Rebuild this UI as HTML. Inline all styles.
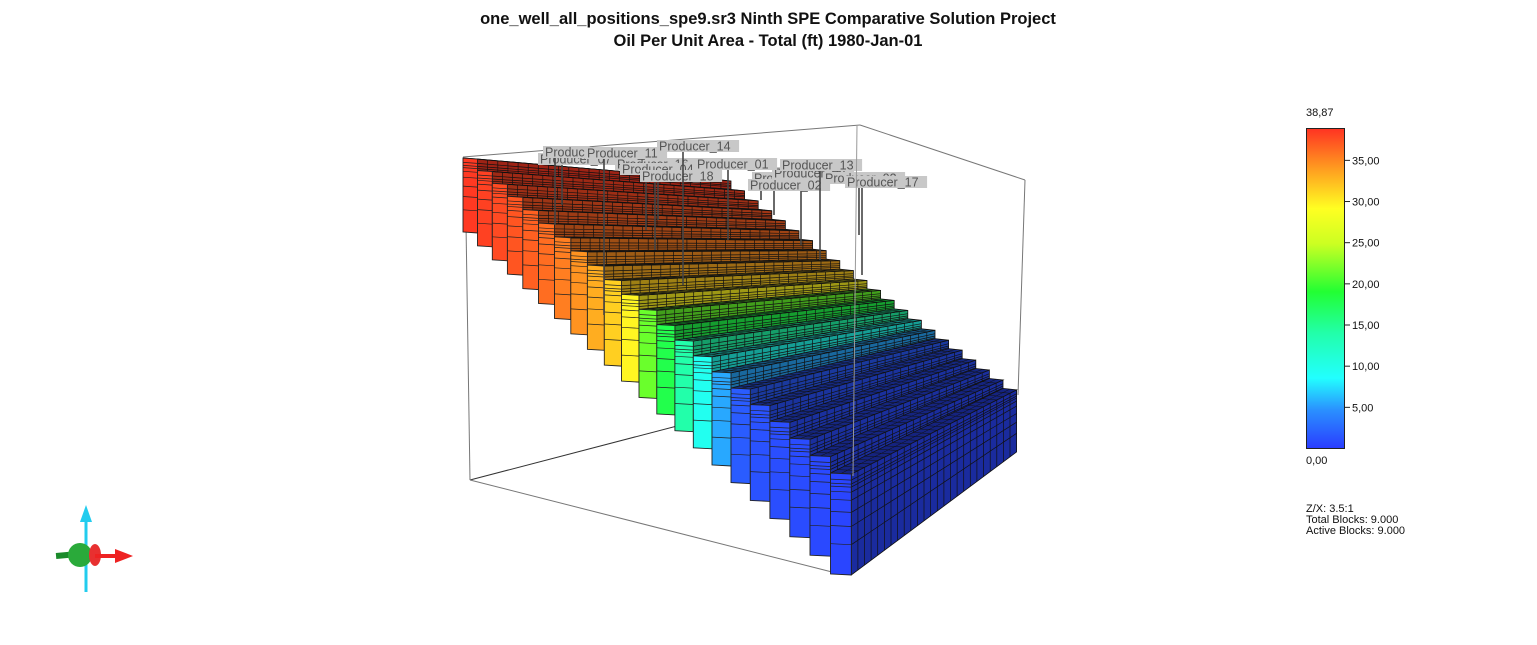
<!DOCTYPE html>
<html><head><meta charset="utf-8"><style>
html,body{margin:0;padding:0;background:#fff;}
body{width:1537px;height:640px;overflow:hidden;font-family:"Liberation Sans",sans-serif;}
</style></head><body>
<svg id="chart" width="1537" height="640" viewBox="0 0 1537 640" xmlns="http://www.w3.org/2000/svg">
<text x="768" y="24" text-anchor="middle" font-family="Liberation Sans, sans-serif" font-size="16.5" font-weight="bold" fill="#111">one_well_all_positions_spe9.sr3 Ninth SPE Comparative Solution Project</text>
<text x="768" y="46" text-anchor="middle" font-family="Liberation Sans, sans-serif" font-size="16.5" font-weight="bold" fill="#111">Oil Per Unit Area - Total (ft)  1980-Jan-01</text>
<g id="boxBack" stroke="#777" stroke-width="1" fill="none">
<line x1="463" y1="157" x2="860" y2="125"/>
<line x1="860" y1="125" x2="1025" y2="180"/>
<line x1="1025" y1="180" x2="1018" y2="395"/>
<line x1="465" y1="160" x2="470" y2="480"/>
<line x1="470" y1="480" x2="700" y2="420" stroke="#333"/>
<line x1="470" y1="480" x2="832" y2="572"/>
</g>
<g id="rows"></g>
<g id="wells"></g>
<line x1="857" y1="125" x2="853" y2="476" stroke="#999" stroke-width="1"/>
<defs>
<linearGradient id="cbar" x1="0" y1="1" x2="0" y2="0">
<stop offset="0" stop-color="#2a3cff"/>
<stop offset="0.12" stop-color="#2a90ff"/>
<stop offset="0.22" stop-color="#22ffff"/>
<stop offset="0.36" stop-color="#22ffaa"/>
<stop offset="0.49" stop-color="#22ff33"/>
<stop offset="0.64" stop-color="#ccff22"/>
<stop offset="0.75" stop-color="#ffff22"/>
<stop offset="0.87" stop-color="#ffa020"/>
<stop offset="1" stop-color="#ff3322"/>
</linearGradient>
</defs>
<g font-family="Liberation Sans, sans-serif" font-size="11" fill="#111">
<text x="1306" y="116">38,87</text>
<rect x="1306.5" y="128.5" width="38" height="320" fill="url(#cbar)" stroke="#222"/>
<g id="legendTicks"></g>
<text x="1306" y="464">0,00</text>
<text x="1306" y="512">Z/X: 3.5:1</text>
<text x="1306" y="523">Total Blocks: 9.000</text>
<text x="1306" y="534">Active Blocks: 9.000</text>
</g>
<g>
<line x1="86" y1="592" x2="86" y2="520" stroke="#22ccee" stroke-width="3"/>
<polygon points="86,505 80,522 92,522" fill="#22ccee"/>
<rect x="56" y="552" width="22" height="6" fill="#1a8a2a" transform="rotate(-5 67 555)"/>
<circle cx="80" cy="555" r="12" fill="#2aaa3a"/>
<ellipse cx="95" cy="555" rx="6" ry="11" fill="#e83030"/>
<line x1="95" y1="556" x2="120" y2="556" stroke="#ee2222" stroke-width="4"/>
<polygon points="133,556 115,549 115,563" fill="#ee2222"/>
</g>
</svg>
<script>
const rowValues=[38.6,38.2,37.8,37.3,36.8,36.2,35.4,34.4,33.2,31.5,29.6,21.5,18,14,9.5,5.5,1.8,1.2,1.0,0.9,0.7,0.5];
const wellNames=["Produc","Producer_11","Producer_14","Producer_01","Producer_13","Producer_17","Producer_07","Producer_16","Producer_04","Producer_18","Producer_05","Producer_08","Producer_03","Producer_02"];
const legendTickValues=[5,10,15,20,25,30,35];
const legendTickLabels=["5,00","10,00","15,00","20,00","25,00","30,00","35,00"];
const wellLabelX=[543,585,657,695,780,845,538,615,620,640,752,772,823,748];
const wellLabelY=[146,147,140,158,159,176,153,158,163,170,172,167,172,179];
const wellBottomY=[225,315,285,240,260,275,205,230,220,250,215,245,235,200];
const vMax=38.87;
const NS="http://www.w3.org/2000/svg";
function el(t,a,p){const e=document.createElementNS(NS,t);for(const k in a)e.setAttribute(k,a[k]);p.appendChild(e);return e;}
const stops=[[0,[42,60,255]],[0.12,[42,144,255]],[0.22,[34,255,255]],[0.36,[34,255,170]],[0.49,[34,255,51]],[0.64,[204,255,34]],[0.75,[255,255,34]],[0.87,[255,160,32]],[1,[255,51,34]]];
function cmap(v){let t=Math.max(0,Math.min(1,v/vMax));for(let i=1;i<stops.length;i++){if(t<=stops[i][0]){const a=stops[i-1],b=stops[i];const f=(t-a[0])/(b[0]-a[0]);return a[1].map((c,k)=>c+(b[1][k]-c)*f);}}return stops[stops.length-1][1];}
function rgb(c,s){return "rgb("+c.map(x=>Math.round(x*s)).join(",")+")";}
const N=rowValues.length;
function rowX(i){return 463+14.5*i+0.3*i*(i-1)/2*(20/(N-2));}
function rowY(i){return 158+12.5*i+0.25*i*(i-1)/2*(20/(N-2));}
function rowW(i){return 14.5+6*i/(N-2);}
function rowH(i){return 74+27*i/(N-1);}
function rightEnd(i){return [731+13.6*i,181+9.95*i];}
function rightH(i){return 45+17*i/(N-1);}
const rowsG=document.getElementById('rows');
const layers=[0.06,0.1,0.13,0.18,0.26,0.38,0.52,0.7];
const nCells=25;
function lerp(p,q,t){return [p[0]+(q[0]-p[0])*t,p[1]+(q[1]-p[1])*t];}
function pts(a){return a.map(p=>p[0].toFixed(1)+","+p[1].toFixed(1)).join(" ");}
function seg(p,q){return "M"+p[0].toFixed(1)+" "+p[1].toFixed(1)+"L"+q[0].toFixed(1)+" "+q[1].toFixed(1);}
for(let i=0;i<N;i++){
  const c=cmap(rowValues[i]);
  const g=el('g',{},rowsG);
  
  
  const x=rowX(i),y=rowY(i),w=rowW(i),h=rowH(i);
  const R=rightEnd(i),hr=rightH(i),wr=13.6;
  const A=[x,y],B=[x+w,y+1],C=R,D=[R[0]-wr,R[1]-1.5];
  const Bb=[B[0],B[1]+h],Cb=[C[0],C[1]+hr];
  const side=el('polygon',{points:pts([B,C,Cb,Bb]),fill:rgb(c,0.62),stroke:'#111','stroke-width':0.8},g);
  
  
  let d="";
  for(const f of layers){d+=seg(lerp(B,Bb,f),lerp(C,Cb,f));}
  for(let k=1;k<nCells;k++){const t=k/nCells;d+=seg(lerp(B,C,t),lerp(Bb,Cb,t));}
  const sl=el('path',{d:d,stroke:'#111','stroke-width':0.7,fill:'none'},g);
  
  
  const top=el('polygon',{points:pts([A,B,C,D]),fill:rgb(c,0.5),stroke:'#111','stroke-width':0.8},g);
  
  
  let dt="";
  for(let k=1;k<nCells;k++){const t=k/nCells;dt+=seg(lerp(A,D,t),lerp(B,C,t));}
  dt+=seg(lerp(A,B,0.5),lerp(D,C,0.5));
  const tl=el('path',{d:dt,stroke:'#111','stroke-width':0.5,fill:'none'},g);
  
  
  const Ab=[A[0],A[1]+h];
  const fr=el('polygon',{points:pts([A,B,Bb,Ab]),fill:rgb(c,1),stroke:'#222','stroke-width':0.9},g);
  
  
  let df="";
  for(const f of layers){df+=seg(lerp(A,Ab,f),lerp(B,Bb,f));}
  const fl=el('path',{d:df,stroke:'#222','stroke-width':0.7,fill:'none'},g);
  
  
}
const wellsG=document.getElementById('wells');
const order=[6,7,8,9,10,11,12,13,0,3,4,5,1,2];
for(const i of order){
  const g=el('g',{},wellsG);
  
  
  const lx=wellLabelX[i],ly=wellLabelY[i];
  const wx=lx+12+((i*7)%30);
  const ln=el('line',{x1:wx,y1:ly+10,x2:wx,y2:wellBottomY[i],stroke:'#444','stroke-width':1.6},g);
  
  
  const tw=wellNames[i].length*7.1+4;
  const r=el('rect',{x:lx,y:ly,width:tw,height:12,fill:'#c8c8c8'},g);
  
  
  const t=el('text',{x:lx+2,y:ly+10.5,'font-size':12.5,fill:'#555','font-family':'Liberation Sans, sans-serif'},g);
  
  
  t.textContent=wellNames[i];
}
const lt=document.getElementById('legendTicks');
function legY(v){return 448.5-320*v/vMax;}
for(let k=0;k<legendTickValues.length;k++){
  const y=legY(legendTickValues[k]);
  const tk=el('line',{x1:1344.5,y1:y,x2:1350,y2:y,stroke:'#222'},lt);
  
  
  const tx=el('text',{x:1352,y:y+4},lt);
  
  
  tx.textContent=legendTickLabels[k];
}
</script>
</body></html>
